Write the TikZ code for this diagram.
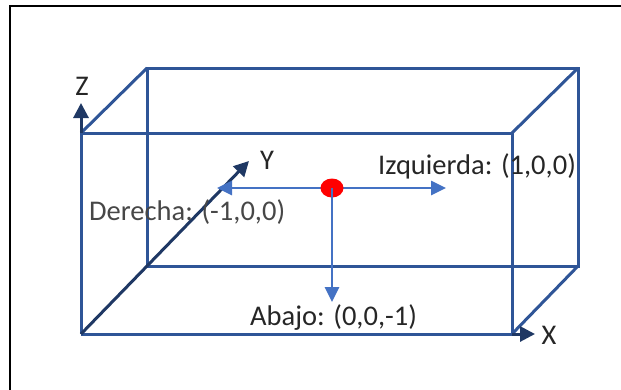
\documentclass[tikz,border=0pt]{standalone}
\usepackage{fontspec}
\setmainfont{Carlito}
\usetikzlibrary{arrows.meta,shapes.geometric}
\definecolor{boxblue}{HTML}{2F5597}
\definecolor{axisblue}{HTML}{1F3864}
\definecolor{arrblue}{HTML}{4472C4}
\definecolor{txt}{HTML}{262626}
\begin{document}
\begin{tikzpicture}[x=1pt,y=-1pt,
  edge/.style={draw=boxblue,line width=3pt},
  axis/.style={draw=axisblue,line width=3pt,-{Triangle[length=15pt,width=15pt]}},
  dir/.style={draw=arrblue,line width=2.6pt,-{Triangle[length=15pt,width=14pt]}},
  lbl/.style={text=txt,font=\fontsize{28.5}{32}\selectfont,inner sep=0pt}]
\useasboundingbox (0,0) rectangle (621,389);
\begin{scope}
\clip (0,0) rectangle (621,389);
\draw[line width=2.2pt,black] (10,6) rectangle (640,400);
\end{scope}
% box corners
\coordinate (f1) at (81,334);
\coordinate (f2) at (512,334);
\coordinate (f3) at (512,133);
\coordinate (f4) at (81,133);
\coordinate (b1) at (147,266);
\coordinate (b2) at (578,266);
\coordinate (b3) at (578,68);
\coordinate (b4) at (147,68);
\draw[edge] (b1) -- (b2) -- (b3) -- (b4) -- cycle;
\draw[edge] (f2) -- (f3) -- (f4);
\draw[edge] (f4) -- (b4);
\draw[edge] (f3) -- (b3);
\draw[edge] (f2) -- (b2);
\draw[edge] (f1) -- (f4);
% axes
\coordinate (zt) at (81,103);
\coordinate (xt) at (535,334);
\coordinate (yt) at (249,161);
\draw[edge] (f1) -- (f2);
\draw[axis] (f4) -- (zt);
\draw[axis] (f2) -- (xt);
\draw[axis] (f1) -- (yt);
\node[lbl] (zl) at (82,86) {Z};
\node[lbl] (xl) at (549,335) {X};
\node[lbl] (yl) at (267,160) {Y};
% direction arrows
\coordinate (c) at (332,188);
\coordinate (lt) at (217,188);
\coordinate (rt) at (446,188);
\coordinate (dt) at (332,302);
\draw[dir] (c) -- (lt);
\draw[dir] (c) -- (rt);
\draw[dir] (c) -- (dt);
\node[fill=red,ellipse,minimum width=23pt,minimum height=19pt,inner sep=0pt] (dot) at (c) {};
\draw[arrblue,line width=2.6pt] (332,188) -- (332,200);
\node[lbl,anchor=west] (izq) at (378,166) {Izquierda: (1,0,0)};
\node[lbl,anchor=west,text=txt!85] (der) at (89,212) {Derecha: (-1,0,0)};
\node[lbl,anchor=west] (aba) at (250,318) {Abajo: (0,0,-1)};
\end{tikzpicture}
\end{document}
